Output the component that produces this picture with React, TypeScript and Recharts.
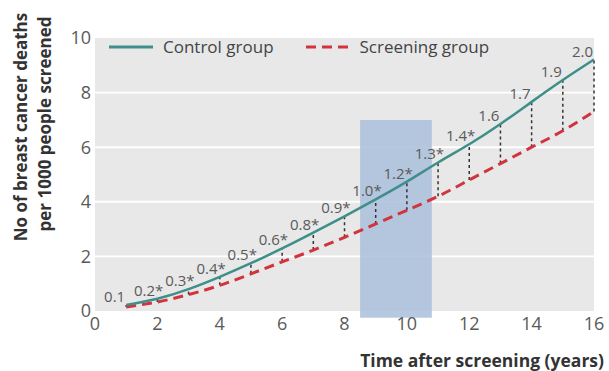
import React from 'react';
import {
  ComposedChart,
  Line,
  XAxis,
  YAxis,
  ReferenceArea,
  ReferenceLine,
  LabelList,
  Legend,
} from 'recharts';

const years = [1, 2, 3, 4, 5, 6, 7, 8, 9, 10, 11, 12, 13, 14, 15, 16];
const controlDeaths = [0.22, 0.45, 0.8, 1.25, 1.75, 2.29, 2.87, 3.47, 4.09, 4.74, 5.44, 6.11, 6.85, 7.66, 8.46, 9.21];
const screeningDeaths = [0.15, 0.33, 0.6, 0.94, 1.36, 1.8, 2.23, 2.7, 3.19, 3.69, 4.2, 4.8, 5.4, 6.0, 6.6, 7.31];
const diffLabels = ['0.1', '0.2*', '0.3*', '0.4*', '0.5*', '0.6*', '0.8*', '0.9*', '1.0*', '1.2*', '1.3*', '1.4*', '1.6', '1.7', '1.9', '2.0'];
const xTicks = [0, 2, 4, 6, 8, 10, 12, 14, 16];
const yTicks = [0, 2, 4, 6, 8, 10];
const gridValues = [2, 4, 6, 8];
const gridHalfWidth = 0.035;
const highlightYears = [8.5, 10.8];
const highlightDeaths = [-0.25, 7];

const data = years.map((y, i) => ({
  year: y,
  control: controlDeaths[i],
  screening: screeningDeaths[i],
  diff: diffLabels[i],
}));

const FONT = '"Open Sans", sans-serif';
const TEAL = '#3e8e8a';
const RED = '#d1343d';
const GREY_TEXT = '#5a5a5a';

const DiffLabel = (props: any) => {
  const { x, y, value } = props;
  const star = String(value).endsWith('*');
  return (
    <text
      x={x + (star ? 6 : -1)}
      y={y - 3}
      textAnchor="end"
      fontSize={15}
      fontFamily={FONT}
      fill={GREY_TEXT}
    >
      {value}
    </text>
  );
};

const LegendContent = () => (
  <div style={{ display: 'flex', alignItems: 'center', fontFamily: FONT, fontSize: 17, color: '#444' }}>
    <svg width={44} height={10} style={{ marginRight: 10 }}>
      <line x1={0} y1={5} x2={44} y2={5} stroke={TEAL} strokeWidth={3} />
    </svg>
    <span style={{ marginRight: 32 }}>Control group</span>
    <svg width={46} height={10} style={{ marginRight: 8 }}>
      <line x1={0} y1={5} x2={46} y2={5} stroke={RED} strokeWidth={3} strokeDasharray="10 6" />
    </svg>
    <span>Screening group</span>
  </div>
);

export default function App() {
  return (
    <div style={{ position: 'absolute', left: 0, top: 0, width: 609, height: 371, background: '#fff' }}>
      <ComposedChart
        width={609}
        height={371}
        data={data}
        margin={{ top: 15, right: 15, left: 0, bottom: 0 }}
      >
        <XAxis
          type="number"
          dataKey="year"
          domain={[0, 16]}
          ticks={xTicks}
          axisLine={false}
          tickLine={false}
          tickSize={0}
          tickMargin={6}
          height={60}
          tick={{ fill: GREY_TEXT, fontSize: 18, fontFamily: FONT }}
          label={{
            content: () => (
              <text
                x={604}
                y={367}
                textAnchor="end"
                fontSize={17.5}
                fontWeight="bold"
                fontFamily={FONT}
                fill="#333"
              >
                Time after screening (years)
              </text>
            ),
          }}
        />
        <YAxis
          type="number"
          domain={[0, 10]}
          ticks={yTicks}
          axisLine={false}
          tickLine={false}
          tickSize={0}
          tickMargin={4}
          width={95}
          tick={{ fill: GREY_TEXT, fontSize: 18, fontFamily: FONT }}
          label={{
            content: () => (
              <g fontSize={17} fontWeight="bold" fontFamily={FONT} fill="#333" textAnchor="middle">
                <text transform="translate(27,127) rotate(-90)">No of breast cancer deaths</text>
                <text transform="translate(51,124) rotate(-90)">per 1000 people screened</text>
              </g>
            ),
          }}
        />
        <ReferenceArea
          x1={0}
          x2={16}
          y1={0}
          y2={10}
          fill="#e8e8e8"
          fillOpacity={1}
          stroke="none"
        />
        {gridValues.map((v) => (
          <ReferenceArea
            key={'g' + v}
            x1={0}
            x2={16}
            y1={v - gridHalfWidth}
            y2={v + gridHalfWidth}
            fill="#ffffff"
            fillOpacity={1}
            stroke="none"
          />
        ))}
        <ReferenceArea
          x1={highlightYears[0]}
          x2={highlightYears[1]}
          y1={highlightDeaths[0]}
          y2={highlightDeaths[1]}
          ifOverflow="visible"
          fill="#a9bfdb"
          fillOpacity={0.85}
          stroke="none"
        />
        {years.map((yr, i) => (
          <ReferenceLine
            key={yr}
            segment={[
              { x: yr, y: screeningDeaths[i] },
              { x: yr, y: controlDeaths[i] },
            ]}
            stroke="#333"
            strokeWidth={1.5}
            strokeDasharray="3 3"
          />
        ))}
        <Line
          type="natural"
          dataKey="screening"
          stroke={RED}
          strokeWidth={3}
          strokeDasharray="10 6"
          dot={false}
          isAnimationActive={false}
        />
        <Line
          type="natural"
          dataKey="control"
          stroke={TEAL}
          strokeWidth={2.5}
          dot={false}
          isAnimationActive={false}
        >
          <LabelList dataKey="diff" content={DiffLabel} />
        </Line>
        <Legend
          verticalAlign="top"
          align="left"
          content={LegendContent}
          wrapperStyle={{ position: 'absolute', top: 35, left: 109, width: 'auto' }}
        />
      </ComposedChart>
    </div>
  );
}
